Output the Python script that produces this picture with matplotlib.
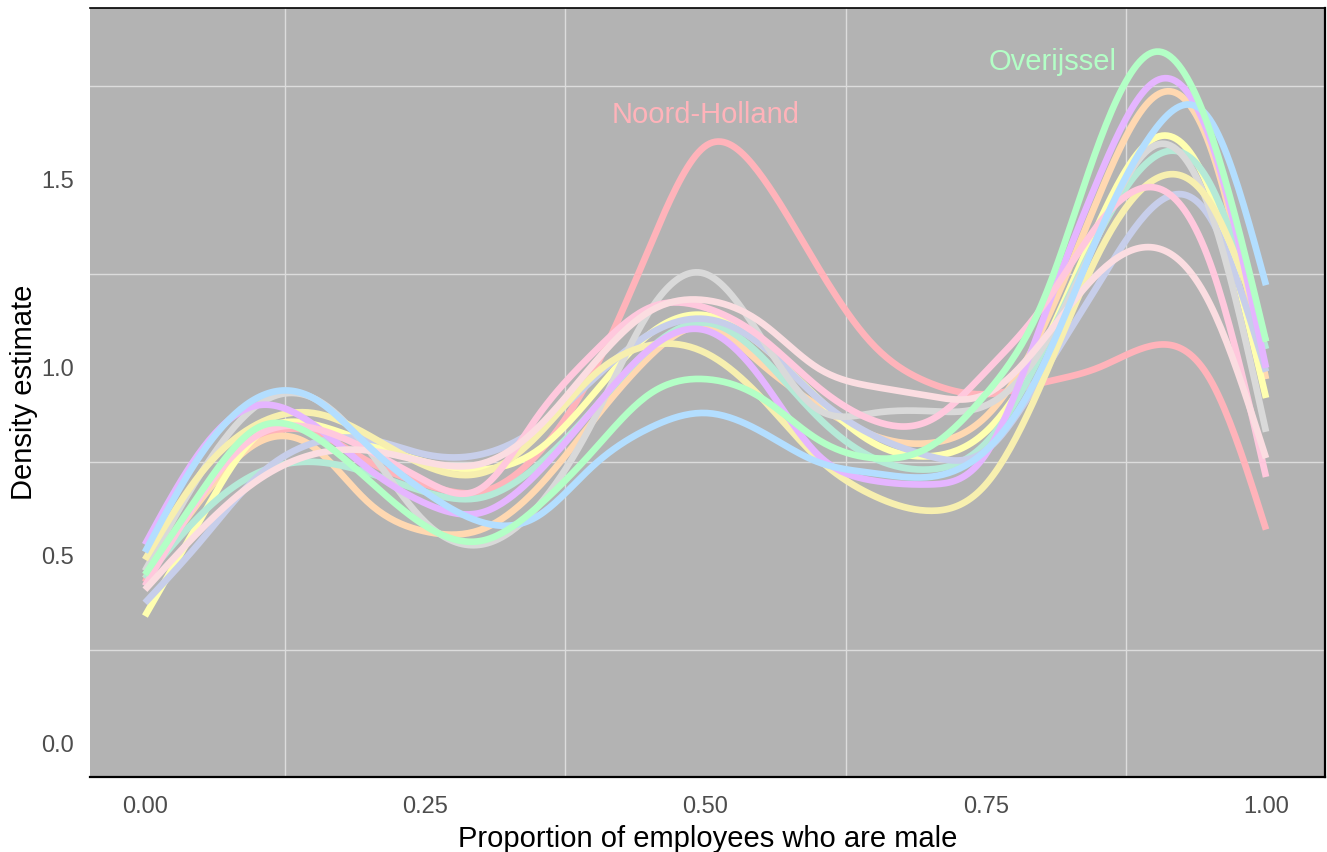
import numpy as np
import matplotlib
matplotlib.use("Agg")
import matplotlib.pyplot as plt

plt.rcParams['font.family'] = ['Liberation Sans', 'DejaVu Sans']

# ---- data ----
x_grid = [0.00, 0.05, 0.10, 0.15, 0.20, 0.25, 0.30, 0.35, 0.40, 0.45, 0.50,
          0.55, 0.60, 0.65, 0.70, 0.75, 0.80, 0.85, 0.90, 0.95, 1.00]

noord_holland = [0.43, 0.66, 0.81, 0.83, 0.75, 0.69, 0.67, 0.77, 0.99, 1.32, 1.59,
                 1.51, 1.27, 1.06, 0.96, 0.93, 0.96, 1.00, 1.06, 0.97, 0.57]
overijssel = [0.45, 0.67, 0.84, 0.82, 0.70, 0.58, 0.54, 0.63, 0.78, 0.93, 0.97,
              0.92, 0.81, 0.76, 0.79, 0.93, 1.17, 1.59, 1.84, 1.63, 1.07]
purple_series = [0.53, 0.78, 0.90, 0.85, 0.73, 0.64, 0.615, 0.72, 0.89, 1.05, 1.10,
                 0.97, 0.77, 0.70, 0.69, 0.77, 1.12, 1.50, 1.76, 1.61, 1.00]
blue_series = [0.51, 0.77, 0.92, 0.92, 0.79, 0.67, 0.59, 0.605, 0.74, 0.84, 0.88,
               0.83, 0.75, 0.72, 0.71, 0.78, 1.00, 1.35, 1.63, 1.66, 1.22]
peach_series = [0.44, 0.65, 0.80, 0.79, 0.64, 0.565, 0.57, 0.68, 0.86, 1.03, 1.11,
                1.01, 0.90, 0.82, 0.80, 0.87, 1.10, 1.45, 1.72, 1.59, 0.97]
yellow_series = [0.34, 0.60, 0.82, 0.85, 0.80, 0.75, 0.73, 0.78, 0.93, 1.09, 1.14,
                 1.06, 0.92, 0.80, 0.765, 0.83, 1.05, 1.38, 1.61, 1.47, 0.92]
khaki_series = [0.49, 0.72, 0.85, 0.88, 0.82, 0.74, 0.72, 0.82, 0.98, 1.06, 1.04,
                0.92, 0.76, 0.66, 0.62, 0.69, 0.96, 1.30, 1.50, 1.44, 1.07]
gray_series = [0.46, 0.72, 0.90, 0.92, 0.78, 0.59, 0.53, 0.63, 0.86, 1.15, 1.25,
               1.08, 0.89, 0.88, 0.885, 0.90, 1.05, 1.35, 1.59, 1.42, 0.83]
mint_series = [0.44, 0.61, 0.72, 0.75, 0.72, 0.67, 0.655, 0.74, 0.89, 1.05, 1.12,
               1.03, 0.87, 0.76, 0.73, 0.80, 1.04, 1.35, 1.56, 1.49, 1.05]
lavender_series = [0.375, 0.54, 0.71, 0.80, 0.81, 0.77, 0.77, 0.84, 0.97, 1.09, 1.13,
                   1.06, 0.92, 0.82, 0.765, 0.78, 0.98, 1.22, 1.43, 1.40, 0.99]
pink_series = [0.42, 0.66, 0.82, 0.84, 0.78, 0.70, 0.68, 0.87, 1.04, 1.16, 1.16,
               1.08, 0.95, 0.86, 0.86, 0.99, 1.16, 1.38, 1.48, 1.28, 0.71]
palepink_series = [0.41, 0.57, 0.70, 0.77, 0.78, 0.75, 0.745, 0.84, 1.01, 1.15, 1.18,
                   1.12, 1.00, 0.95, 0.925, 0.93, 1.07, 1.25, 1.32, 1.17, 0.76]

series_values = [noord_holland, peach_series, yellow_series, mint_series, lavender_series,
                 gray_series, khaki_series, purple_series, pink_series, palepink_series,
                 blue_series, overijssel]
series_colors = ['#FFB3BA', '#FFD8B1', '#FFFFB0', '#B5EAD7', '#C7CEEA',
                 '#D9D9D9', '#F7EFAF', '#E5B5FF', '#FFC8DD', '#FBDDE1',
                 '#B3DEFF', '#B3FFC6']

x_ticks = [0.00, 0.25, 0.50, 0.75, 1.00]
x_tick_labels = ['0.00', '0.25', '0.50', '0.75', '1.00']
y_ticks = [0.0, 0.5, 1.0, 1.5]
y_tick_labels = ['0.0', '0.5', '1.0', '1.5']


def natural_spline(x, y, xs):
    x = np.asarray(x, float); y = np.asarray(y, float)
    n = len(x)
    h = np.diff(x)
    A = np.zeros((n, n)); b = np.zeros(n)
    A[0, 0] = 1; A[-1, -1] = 1
    for i in range(1, n - 1):
        A[i, i - 1] = h[i - 1]
        A[i, i] = 2 * (h[i - 1] + h[i])
        A[i, i + 1] = h[i]
        b[i] = 3 * ((y[i + 1] - y[i]) / h[i] - (y[i] - y[i - 1]) / h[i - 1])
    c = np.linalg.solve(A, b)
    idx = np.clip(np.searchsorted(x, xs) - 1, 0, n - 2)
    dx = xs - x[idx]
    bb = (y[idx + 1] - y[idx]) / h[idx] - h[idx] * (2 * c[idx] + c[idx + 1]) / 3
    d = (c[idx + 1] - c[idx]) / (3 * h[idx])
    return y[idx] + bb * dx + c[idx] * dx ** 2 + d * dx ** 3


fig = plt.figure(figsize=(13.27, 8.52), dpi=100)
ax = fig.add_axes([90 / 1327, 1 - 777 / 852, (1325 - 90) / 1327, (777 - 8) / 852])
ax.set_facecolor('#B3B3B3')

xs = np.linspace(0, 1, 400)
for vals, col in zip(series_values, series_colors):
    ax.plot(xs, natural_spline(x_grid, vals, xs), color=col, lw=4.8,
            solid_capstyle='butt', zorder=3)

ax.text(0.5, 1.672, 'Noord-Holland', color='#FFB3BA', fontsize=21,
        ha='center', va='center', zorder=4)
ax.text(0.81, 1.813, 'Overijssel', color='#B3FFC6', fontsize=21,
        ha='center', va='center', zorder=4)

ax.set_xlim(-0.049, 1.0526)
ax.set_ylim(-0.088, 1.957)

ax.set_xticks(x_ticks)
ax.set_xticklabels(x_tick_labels)
ax.set_yticks(y_ticks)
ax.set_yticklabels(y_tick_labels)
ax.set_xticks([0.125, 0.375, 0.625, 0.875], minor=True)
ax.set_yticks([0.25, 0.75, 1.25, 1.75], minor=True)
ax.grid(False, which='major')
ax.grid(True, which='minor', color='#DCDCDC', lw=1.0, zorder=1)
ax.set_axisbelow(True)
ax.tick_params(which='both', length=0)
ax.tick_params(axis='x', pad=14, labelsize=17, labelcolor='#4D4D4D')
ax.tick_params(axis='y', pad=11.5, labelsize=17, labelcolor='#4D4D4D')

for s in ['top', 'right', 'bottom']:
    ax.spines[s].set_color('black')
ax.spines['top'].set_linewidth(1.2)
ax.spines['right'].set_linewidth(1.6)
ax.spines['bottom'].set_linewidth(1.6)
ax.spines['left'].set_visible(False)

ax.set_xlabel('Proportion of employees who are male', fontsize=21, labelpad=5)
ax.set_ylabel('Density estimate', fontsize=21, labelpad=2)

fig.savefig('out.png', dpi=100)
